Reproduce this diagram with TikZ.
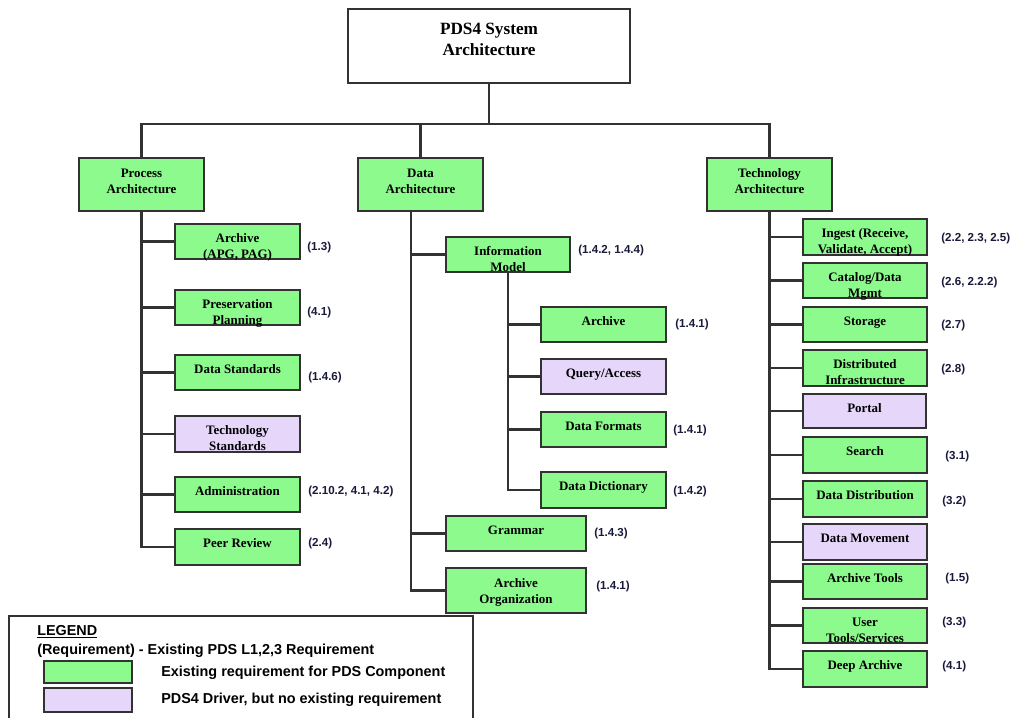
\documentclass[tikz,border=0pt]{standalone}
\usepackage{fontspec}
\setmainfont{Liberation Serif}
\newfontfamily\lsans{Liberation Sans}
\usepackage{tikz}
\usetikzlibrary{positioning}
\definecolor{pds_green}{RGB}{140, 250, 140}
\definecolor{pds_violet}{RGB}{230, 215, 250}
\definecolor{pds_line}{RGB}{50, 50, 50}
\definecolor{pds_req}{RGB}{25, 25, 60}
\tikzstyle{gb}=[rectangle,fill=pds_green,draw=pds_line,line width=1.8pt,
  inner sep=0pt,minimum width=93.75pt,minimum height=26.25pt]
\tikzstyle{pb}=[rectangle,fill=pds_violet,draw=pds_line,line width=1.8pt,
  inner sep=0pt,minimum width=93.75pt,minimum height=26.25pt]
\tikzstyle{bt}=[inner sep=0pt,align=center,font=\fontsize{9.7}{12}\selectfont\bfseries]
\tikzstyle{rq}=[anchor=west,inner sep=0pt,text=pds_req,
  font=\lsans\fontsize{8.7}{10}\selectfont\bfseries]
\tikzstyle{lt}=[anchor=west,inner sep=0pt,font=\lsans\fontsize{10.8}{13}\selectfont\bfseries]
\tikzstyle{wire}=[draw=pds_line,line width=1.7pt]

\begin{document}
\begin{tikzpicture}[x=0.75pt,y=-0.75pt]
    \useasboundingbox (0,0) rectangle (1013,717);
    % top and the three architectures
    \node [rectangle,fill=white,draw=pds_line,line width=1.4pt,minimum width=211.5pt,minimum height=55.5pt] (sys) at (489,46) {};
    \node [inner sep=0pt,align=center,font=\fontsize{12.9}{15.8}\selectfont\bfseries,below=11.2pt of sys.north] (syst) {PDS4 System\\Architecture};
    \coordinate (bus) at (489,124);
    \node [style=gb,minimum height=39.75pt] (pa) at (141.5,184.5) {};
    \node [style=gb,minimum height=39.75pt] (da) at (420.5,184.5) {};
    \node [style=gb,minimum height=39.75pt] (ta) at (769.5,184.5) {};
    \node [style=bt,below=8.6pt of pa.north] (pat) {Process\\Architecture};
    \node [style=bt,below=8.6pt of da.north] (dat) {Data\\Architecture};
    \node [style=bt,below=8.6pt of ta.north] (tat) {Technology\\Architecture};

    % process architecture
    \node [style=gb] (pa1) at (237.5,241.5) {};
    \node [style=gb] (pa2) at (237.5,307.5) {};
    \node [style=gb] (pa3) at (237.5,372.5) {};
    \node [style=pb,minimum height=27pt] (pa4) at (237.5,434) {};
    \node [style=gb] (pa5) at (237.5,494.5) {};
    \node [style=gb,minimum height=27pt] (pa6) at (237.5,547) {};
    \node [style=bt,below=7.9pt of pa1.north] (pa1t) {Archive\\(APG, PAG)};
    \node [style=bt,below=7.9pt of pa2.north] (pa2t) {Preservation\\Planning};
    \node [style=bt,below=7.9pt of pa3.north] (pa3t) {Data Standards};
    \node [style=bt,below=7.9pt of pa4.north] (pa4t) {Technology\\Standards};
    \node [style=bt,below=7.9pt of pa5.north] (pa5t) {Administration};
    \node [style=bt,below=7.9pt of pa6.north] (pa6t) {Peer Review};
    \node [style=rq] (pa1r) at (307,247) {(1.3)};
    \node [style=rq] (pa2r) at (307,312) {(4.1)};
    \node [style=rq] (pa3r) at (308,377) {(1.4.6)};
    \node [style=rq] (pa5r) at (308,491) {(2.10.2, 4.1, 4.2)};
    \node [style=rq] (pa6r) at (308,543) {(2.4)};

    % data architecture
    \coordinate (dt) at (411,211);
    \node [style=gb,minimum width=93pt] (im) at (508,254.5) {};
    \node [style=gb] (da1) at (603.5,324.5) {};
    \node [style=pb] (da2) at (603.5,376.5) {};
    \node [style=gb] (da3) at (603.5,429.5) {};
    \node [style=gb,minimum height=27pt] (da4) at (603.5,490) {};
    \node [style=gb,minimum width=105pt] (gr) at (516,533.5) {};
    \node [style=gb,minimum width=105pt,minimum height=33.75pt] (ao) at (516,590.5) {};
    \node [style=bt,below=7.9pt of im.north] (imt) {Information\\Model};
    \node [style=bt,below=7.9pt of da1.north] (da1t) {Archive};
    \node [style=bt,below=7.9pt of da2.north] (da2t) {Query/Access};
    \node [style=bt,below=7.9pt of da3.north] (da3t) {Data Formats};
    \node [style=bt,below=7.9pt of da4.north] (da4t) {Data Dictionary};
    \node [style=bt,below=7.9pt of gr.north] (grt) {Grammar};
    \node [style=bt,below=8.4pt of ao.north] (aot) {Archive\\Organization};
    \node [style=rq] (imr) at (578,250) {(1.4.2, 1.4.4)};
    \node [style=rq] (da1r) at (675,324) {(1.4.1)};
    \node [style=rq] (da3r) at (673,430) {(1.4.1)};
    \node [style=rq] (da4r) at (673,491) {(1.4.2)};
    \node [style=rq] (grr) at (594,533) {(1.4.3)};
    \node [style=rq] (aor) at (596,586) {(1.4.1)};

    % technology architecture
    \node [style=gb,minimum width=93pt,minimum height=27pt] (ta1) at (865,237) {};
    \node [style=gb,minimum width=93pt] (ta2) at (865,280.5) {};
    \node [style=gb,minimum width=93pt] (ta3) at (865,324.5) {};
    \node [style=gb,minimum width=93pt,minimum height=27pt] (ta4) at (865,368) {};
    \node [style=pb,minimum width=92pt,minimum height=25.5pt] (ta5) at (864.5,411) {};
    \node [style=gb,minimum width=93pt,minimum height=27pt] (ta6) at (865,455) {};
    \node [style=gb,minimum width=93pt,minimum height=27pt] (ta7) at (865,499) {};
    \node [style=pb,minimum width=93pt,minimum height=27pt] (ta8) at (865,542) {};
    \node [style=gb,minimum width=93pt] (ta9) at (865,581.5) {};
    \node [style=gb,minimum width=93pt] (ta10) at (865,625.5) {};
    \node [style=gb,minimum width=93pt,minimum height=27pt] (ta11) at (865,669) {};
    \node [style=bt,below=7.9pt of ta1.north] (ta1t) {Ingest (Receive,\\Validate, Accept)};
    \node [style=bt,below=7.9pt of ta2.north] (ta2t) {Catalog/Data\\Mgmt};
    \node [style=bt,below=7.9pt of ta3.north] (ta3t) {Storage};
    \node [style=bt,below=7.9pt of ta4.north] (ta4t) {Distributed\\Infrastructure};
    \node [style=bt,below=7.9pt of ta5.north] (ta5t) {Portal};
    \node [style=bt,below=7.9pt of ta6.north] (ta6t) {Search};
    \node [style=bt,below=7.9pt of ta7.north] (ta7t) {Data Distribution};
    \node [style=bt,below=7.9pt of ta8.north] (ta8t) {Data Movement};
    \node [style=bt,below=7.9pt of ta9.north] (ta9t) {Archive Tools};
    \node [style=bt,below=7.9pt of ta10.north] (ta10t) {User\\Tools/Services};
    \node [style=bt,below=7.9pt of ta11.north] (ta11t) {Deep Archive};
    \node [style=rq] (ta1r) at (941,238) {(2.2, 2.3, 2.5)};
    \node [style=rq] (ta2r) at (941,282) {(2.6, 2.2.2)};
    \node [style=rq] (ta3r) at (941,325) {(2.7)};
    \node [style=rq] (ta4r) at (941,369) {(2.8)};
    \node [style=rq] (ta6r) at (945,456) {(3.1)};
    \node [style=rq] (ta7r) at (942,501) {(3.2)};
    \node [style=rq] (ta9r) at (945,578) {(1.5)};
    \node [style=rq] (ta10r) at (942,622) {(3.3)};
    \node [style=rq] (ta11r) at (942,666) {(4.1)};

    % connectors
    \draw [style=wire] (sys) to (bus);
    \draw [style=wire] (bus) -| (pa);
    \draw [style=wire] (bus) -| (da);
    \draw [style=wire] (bus) -| (ta);
    \foreach \k in {1,...,6}
      \draw [style=wire] (pa) |- (pa\k);
    \draw [style=wire] (dt) |- (im);
    \draw [style=wire] (dt) |- (gr);
    \draw [style=wire] (dt) |- (ao);
    \foreach \k in {1,...,4}
      \draw [style=wire] (im) |- (da\k);
    \foreach \k in {1,...,11}
      \draw [style=wire] (ta) |- (ta\k);

    % legend
    \node [rectangle,draw=pds_line,line width=1.4pt,fill=white,minimum width=348pt,minimum height=85.5pt] (legend) at (241,673) {};
    \node [style=lt] (lgtitle) at (37,632) {\underline{LEGEND}};
    \node [style=lt] (lgreq) at (37,651) {(Requirement) - Existing PDS L1,2,3 Requirement};
    \node [style=gb,minimum width=66pt,minimum height=16.5pt] (lggreen) at (88,672) {};
    \node [style=pb,minimum width=66pt,minimum height=18pt] (lgviolet) at (88,700) {};
    \node [style=lt] (lggreent) at (161,673) {Existing requirement for PDS Component};
    \node [style=lt] (lgviolett) at (161,700) {PDS4 Driver, but no existing requirement};
  \end{tikzpicture}
\end{document}
